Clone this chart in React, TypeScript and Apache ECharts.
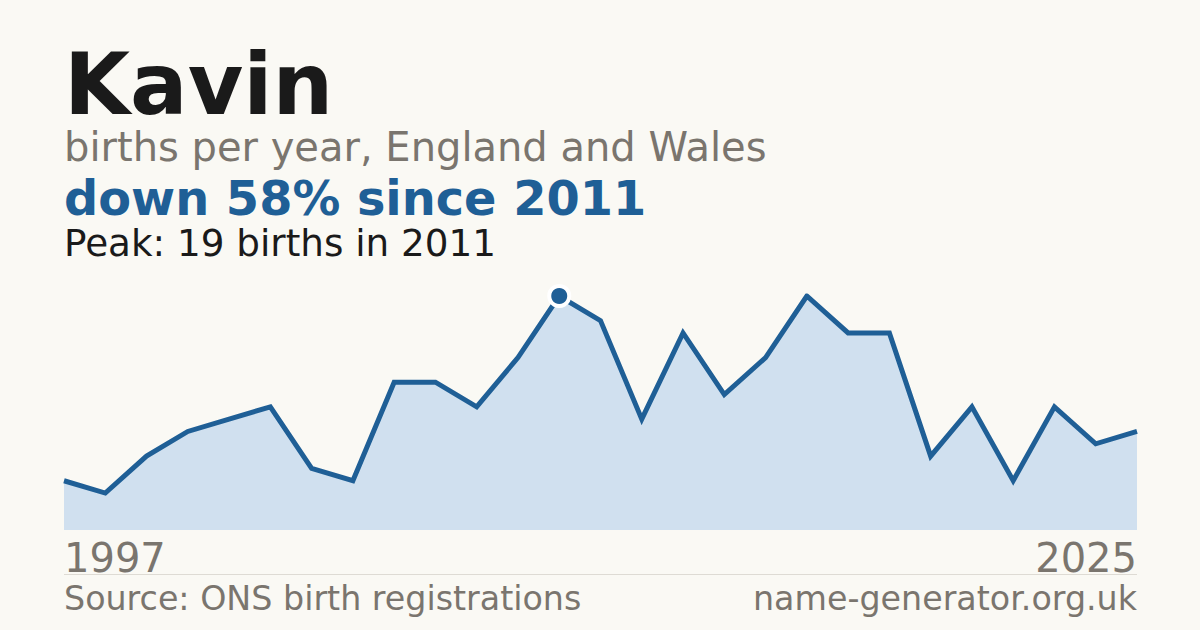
import { useEffect, useRef } from 'react'
import * as echarts from 'echarts'

const years = [
  '1997', '1998', '1999', '2001', '2002', '2003', '2005', '2006', '2007',
  '2008', '2009', '2010', '2011', '2012', '2013', '2014', '2015', '2016',
  '2017', '2018', '2019', '2020', '2021', '2022', '2023', '2024', '2025',
]
const births = [4, 3, 6, 8, 9, 10, 5, 4, 12, 12, 10, 14, 19, 17, 9, 16, 11, 14, 19, 16, 16, 6, 10, 4, 10, 7, 8]

const title = 'Kavin'
const subtitle = 'births per year, England and Wales'
const headline = 'down 58% since 2011'
const peakNote = 'Peak: 19 births in 2011'
const source = 'Source: ONS birth registrations'
const site = 'name-generator.org.uk'

const FONT = '"DejaVu Sans", sans-serif'
const BLUE = '#1f5f96'
const GRAY = '#7a756e'
const INK = '#1a1a1a'

// graphic text is placed by its top edge; work back from the wanted baseline
function txt(text: string, x: number, baseline: number, size: number, fill: string, weight = 'normal', align = 'left') {
  const lh = Math.round(size * 0.9)
  return {
    type: 'text',
    x,
    y: baseline - lh / 2 - 0.346 * size,
    style: { text, fill, font: `${weight} ${size}px ${FONT}`, lineHeight: lh, align, verticalAlign: 'top' },
  }
}

export default function App() {
  const elRef = useRef<HTMLDivElement | null>(null)

  useEffect(() => {
    if (!elRef.current) return
    const chart = echarts.init(elRef.current, undefined, { renderer: 'svg' })
    const last = years.length - 1
    chart.setOption({
      animation: false,
      backgroundColor: '#faf9f4',
      grid: { left: 64, right: 63, top: 296, bottom: 100 },
      xAxis: {
        type: 'category',
        data: years,
        boundaryGap: false,
        axisLine: { show: false },
        axisTick: { show: false },
        axisLabel: {
          interval: (i: number) => i === 0 || i === last,
          color: GRAY,
          fontFamily: FONT,
          fontSize: 40,
          margin: 8,
          alignMinLabel: 'left',
          alignMaxLabel: 'right',
        },
      },
      yAxis: { type: 'value', min: 0, max: 19, show: false, splitLine: { show: false } },
      series: [
        {
          type: 'line',
          data: births,
          symbol: 'none',
          lineStyle: { color: BLUE, width: 5, join: 'miter' },
          areaStyle: { color: '#d0e0ef', opacity: 1 },
          markPoint: {
            symbol: 'circle',
            symbolSize: 20,
            itemStyle: { color: BLUE, borderColor: '#ffffff', borderWidth: 4 },
            label: { show: false },
            data: [{ type: 'max' }],
          },
        },
      ],
      graphic: [
        txt(title, 64, 114, 85.3, INK, 'bold'),
        txt(subtitle, 64, 161, 40, GRAY),
        txt(headline, 64, 215, 47.8, BLUE, 'bold'),
        txt(peakNote, 64, 256, 37.3, INK),
        { type: 'line', shape: { x1: 64, y1: 574.5, x2: 1137, y2: 574.5 }, style: { stroke: '#dedbd4', lineWidth: 1 } },
        txt(source, 64, 610, 33.3, GRAY),
        txt(site, 1137, 610, 33.3, GRAY, 'normal', 'right'),
      ],
    })
    return () => chart.dispose()
  }, [])

  return <div ref={elRef} style={{ position: 'fixed', left: 0, top: 0, width: 1200, height: 630 }} />
}
